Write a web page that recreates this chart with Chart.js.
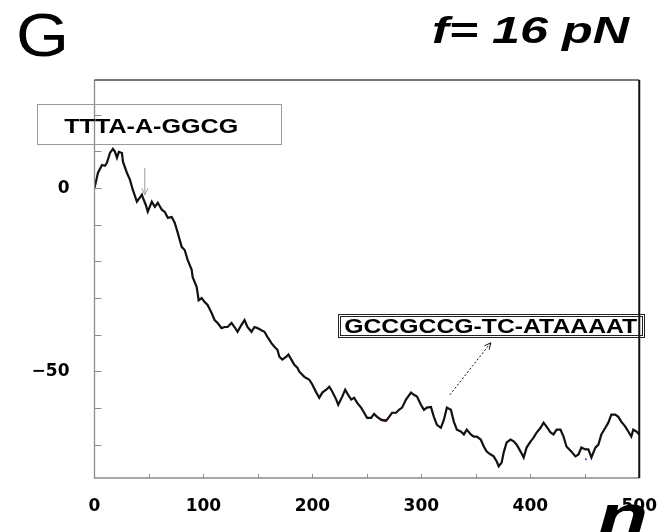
<!DOCTYPE html>
<html>
<head>
<meta charset="utf-8">
<script src="https://cdn.jsdelivr.net/npm/chart.js@4.4.0/dist/chart.umd.min.js"></script>
<style>
  html, body { margin: 0; padding: 0; background: #fff; }
  #wrap { width: 667px; height: 532px; }
</style>
</head>
<body>
<div id="wrap"><canvas id="chart" width="667" height="532"></canvas></div>
<script>
// n (base position) and energy
const nValues = [
  0, 3.2, 6.9, 9.6, 11.4, 14.2, 16.9, 18.8, 20.6, 22.4, 25.2, 26.1, 29.7, 32.5, 35.2, 38.9, 41.6, 43.5, 44.4, 47.1,
  48.9, 52.6, 55.4, 58.1, 61.8, 64.5, 67.3, 70.9, 73.7, 76.4, 80.1, 82.8, 85.5, 89.2,
  90.1, 93.8, 95.6, 98.4, 101.1, 103.8, 107.5, 110.2, 113.0, 116.6, 119.4, 122.1, 125.8, 128.5, 131.3, 134.9, 137.7, 140.4, 144.1, 146.8,
  149.6, 153.2, 156.0, 158.7, 162.4, 165.1, 167.9, 169.7, 172.4, 176.1, 178.0, 180.7, 183.4, 186.2,
  188.0, 192.6, 197.2, 199.9, 203.6, 206.3, 209.1, 212.7, 215.5, 218.2, 221.9, 223.7, 227.4, 230.1, 232.8, 235.6, 238.3, 241.1, 244.7, 247.5,
  250.2, 253.9, 256.6, 259.4, 263.0, 267.6, 270.4, 273.1, 276.8, 279.5,
  282.3, 285.9, 290.5, 293.2, 296.0, 299.6, 302.4, 305.1, 308.8, 311.5, 314.3, 317.9, 320.7, 323.4, 327.1, 329.8, 332.6, 336.2, 339.0, 341.7,
  345.4, 348.1, 350.9, 354.5, 357.3, 360.0, 363.7, 366.4, 369.2,
  371.0, 373.7, 375.6, 378.3, 381.9, 384.7, 387.5, 391.1, 393.9, 396.6, 400.3, 403.0, 405.8, 409.4, 412.2, 414.9, 418.6, 421.3, 424.1, 427.7,
  430.5, 433.2,
  437.8, 441.4, 444.2, 446.9, 450.6, 453.3, 456.1, 459.7, 462.5, 465.2, 468.9, 471.6, 474.4, 478.0, 480.8, 483.5, 487.2, 489.9, 492.7, 494.5,
  497.3, 500
];
const energy = [
  0, 4.2, 6.3, 6.1, 6.9, 9.6, 10.7, 9.9, 8.3, 9.9, 9.6, 7.2, 4.2, 2.3, -0.5, -3.7, -2.6, -1.8, -2.6, -4.6,
  -6.4, -3.7, -5.1, -4.0, -5.9, -6.5, -8.1, -7.9, -9.5, -12.2, -16.1, -16.9, -19.6, -22.3,
  -24.3, -27.0, -30.6, -30.0, -31.1, -31.9, -34.1, -36.0, -36.8, -38.2, -37.9, -37.9, -36.8, -37.9, -39.2, -37.3, -36.0, -37.9, -39.2, -37.9,
  -38.2, -38.8, -39.2, -40.6, -42.3, -43.3, -44.1, -46.0, -46.8, -46.0, -45.4, -46.8, -48.2, -49.0,
  -50.1, -51.5, -52.3, -53.6, -55.8, -57.2, -55.8, -55.0, -54.2, -55.5, -57.7, -59.1, -56.9, -55.0, -56.4, -57.7, -57.2, -58.6, -59.9, -61.3,
  -62.7, -62.7, -61.6, -62.4, -63.2, -63.5, -62.4, -61.3, -61.3, -60.5,
  -59.9, -57.7, -55.8, -56.4, -56.9, -59.1, -60.5, -59.9, -59.7, -62.4, -64.6, -65.4, -63.2, -59.9, -60.5, -63.7, -65.9, -66.4, -67.2, -65.9,
  -67.2, -67.8, -67.8, -68.6, -70.5, -71.9, -72.7, -73.2, -74.6,
  -75.9, -74.9, -72.1, -69.4, -68.6, -69.1, -70.0, -71.9, -73.5, -70.8, -69.1, -68.1, -66.7, -65.4, -64.0, -65.1, -66.7, -67.2, -65.9, -65.9,
  -67.8, -70.5,
  -71.9, -73.2, -72.7, -70.8, -71.3, -71.3, -73.5, -70.8, -70.0, -67.2, -65.4, -64.0, -61.8, -61.8, -62.4, -63.7, -65.1, -66.4, -67.8, -65.9,
  -66.4, -67.2
];

// short red stretch of the curve and the stray blue dot
const redRange = [262, 268];
const blueN = [451];
const blueY = [-74];

const xTicks = [0, 50, 100, 150, 200, 250, 300, 350, 400, 450, 500];
const xLabels = [0, 100, 200, 300, 400, 500];
const yTicks = [-70, -60, -50, -40, -30, -20, -10, 0, 10, 20];
const yLabels = [0, -50];

const curve = nValues.map((n, i) => ({ x: n, y: energy[i] }));
const redPart = curve.filter(p => p.x >= redRange[0] && p.x <= redRange[1]);
const bluePts = blueN.map((n, i) => ({ x: n, y: blueY[i] }));

// draw text squeezed/stretched to a given width (the original font is wide)
function fitText(ctx, text, left, baseline, font, width) {
  ctx.save();
  ctx.font = font;
  ctx.textAlign = 'left';
  ctx.textBaseline = 'alphabetic';
  const w = ctx.measureText(text).width;
  ctx.translate(left, baseline);
  ctx.scale(width / w, 1);
  ctx.fillText(text, 0, 0);
  ctx.restore();
}

function arrow(ctx, x1, y1, x2, y2, head) {
  ctx.beginPath();
  ctx.moveTo(x1, y1);
  ctx.lineTo(x2, y2);
  ctx.stroke();
  const ang = Math.atan2(y2 - y1, x2 - x1);
  ctx.setLineDash([]);
  ctx.beginPath();
  ctx.moveTo(x2 - head * Math.cos(ang - 0.45), y2 - head * Math.sin(ang - 0.45));
  ctx.lineTo(x2, y2);
  ctx.lineTo(x2 - head * Math.cos(ang + 0.45), y2 - head * Math.sin(ang + 0.45));
  ctx.stroke();
}

const decor = {
  id: 'decor',
  afterDraw(chart) {
    const { ctx, chartArea: a, scales: { x, y } } = chart;
    ctx.save();

    // frame
    ctx.lineWidth = 1.3;
    ctx.strokeStyle = '#8c8c8c';
    ctx.beginPath();
    ctx.moveTo(a.left, a.top);
    ctx.lineTo(a.left, a.bottom);
    ctx.lineTo(a.right, a.bottom);
    ctx.stroke();
    ctx.strokeStyle = '#4a4a4a';
    ctx.lineWidth = 1.5;
    ctx.beginPath();
    ctx.moveTo(a.left, a.top);
    ctx.lineTo(a.right, a.top);
    ctx.stroke();
    ctx.strokeStyle = '#111';
    ctx.lineWidth = 2;
    ctx.beginPath();
    ctx.moveTo(a.right, a.top);
    ctx.lineTo(a.right, a.bottom);
    ctx.stroke();

    // inward ticks
    ctx.strokeStyle = '#8c8c8c';
    ctx.lineWidth = 1;
    xTicks.slice(1, -1).forEach(v => {
      const px = Math.round(x.getPixelForValue(v)) + 0.5;
      ctx.beginPath();
      ctx.moveTo(px, a.bottom);
      ctx.lineTo(px, a.bottom - 4);
      ctx.stroke();
    });
    yTicks.forEach(v => {
      const py = Math.round(y.getPixelForValue(v)) + 0.5;
      ctx.beginPath();
      ctx.moveTo(a.left, py);
      ctx.lineTo(a.left + 7, py);
      ctx.stroke();
    });

    // annotation box 1
    const b1x0 = x.getPixelForValue(-52.6), b1x1 = x.getPixelForValue(171.5);
    const b1y0 = y.getPixelForValue(23), b1y1 = y.getPixelForValue(12.1);
    ctx.strokeStyle = '#9a9a9a';
    ctx.lineWidth = 1;
    ctx.strokeRect(Math.round(b1x0) + 0.5, Math.round(b1y0) + 0.5, Math.round(b1x1 - b1x0), Math.round(b1y1 - b1y0));
    ctx.fillStyle = '#000';
    fitText(ctx, 'TTTA-A-GGCG', b1x0 + 27, b1y0 + 29, 'bold 21px "Liberation Sans"', 174);

    // annotation box 2 (double frame)
    const b2x0 = x.getPixelForValue(223.7), b2x1 = x.getPixelForValue(505);
    const b2y0 = y.getPixelForValue(-34.3), b2y1 = y.getPixelForValue(-40.5);
    ctx.strokeStyle = '#222';
    ctx.strokeRect(Math.round(b2x0) + 0.5, Math.round(b2y0) + 0.5, Math.round(b2x1 - b2x0), Math.round(b2y1 - b2y0));
    ctx.strokeRect(Math.round(b2x0) + 2.5, Math.round(b2y0) + 2.5, Math.round(b2x1 - b2x0) - 4, Math.round(b2y1 - b2y0) - 4);
    fitText(ctx, 'GCCGCCG-TC-ATAAAAT', b2x0 + 6, b2y0 + 19, 'bold 21px "Liberation Sans"', 293);

    // arrows
    ctx.strokeStyle = '#9a9a9a';
    ctx.lineWidth = 1;
    arrow(ctx, x.getPixelForValue(46.2), y.getPixelForValue(5.5),
               x.getPixelForValue(46.2), y.getPixelForValue(-1.8), 7);
    ctx.strokeStyle = '#111';
    ctx.setLineDash([2, 2]);
    arrow(ctx, x.getPixelForValue(326.2), y.getPixelForValue(-56.4),
               x.getPixelForValue(363.7), y.getPixelForValue(-42.2), 7);
    ctx.setLineDash([]);

    // panel letter, force label, axis name
    ctx.fillStyle = '#000';
    fitText(ctx, 'G', 16, 56, '61px "Liberation Sans"', 53);
    fitText(ctx, 'f= 16 pN', 432, 43, 'italic bold 36px "Liberation Sans"', 197);
    fitText(ctx, 'n', 598, 535, 'italic bold 58px "Liberation Sans"', 50);

    ctx.restore();
  }
};

const tickFont = { family: 'DejaVu Sans', weight: 'bold', size: 17 };

new Chart(document.getElementById('chart').getContext('2d'), {
  type: 'line',
  data: {
    datasets: [
      {
        data: curve,
        borderColor: '#111',
        borderWidth: 2.2,
        pointRadius: 0,
        tension: 0
      },
      {
        data: redPart,
        borderColor: '#e0201a',
        borderWidth: 2.6,
        pointRadius: 0,
        tension: 0
      },
      {
        data: bluePts,
        showLine: false,
        pointRadius: 1,
        pointBackgroundColor: '#3040ff',
        pointBorderWidth: 0
      }
    ]
  },
  options: {
    responsive: false,
    animation: false,
    devicePixelRatio: 1,
    layout: { padding: { left: 0, right: 26, top: 80, bottom: 0 } },
    plugins: { legend: { display: false }, tooltip: { enabled: false } },
    scales: {
      x: {
        type: 'linear',
        min: 0,
        max: 500,
        grid: { display: false },
        border: { display: false },
        afterBuildTicks: s => { s.ticks = xTicks.map(v => ({ value: v })); },
        afterFit: s => { s.height = 54; },
        ticks: {
          autoSkip: false,
          maxRotation: 0,
          padding: 10,
          color: '#000',
          font: tickFont,
          callback: v => xLabels.includes(v) ? String(v) : ''
        }
      },
      y: {
        min: -79.1,
        max: 29.5,
        grid: { display: false },
        border: { display: false },
        afterBuildTicks: s => { s.ticks = yTicks.map(v => ({ value: v })); },
        afterFit: s => { s.width = 94.5; },
        ticks: {
          padding: 17,
          color: '#000',
          font: tickFont,
          callback: v => yLabels.includes(v) ? String(v).replace('-', '\u2212') : ''
        }
      }
    }
  },
  plugins: [decor]
});
</script>
</body>
</html>
